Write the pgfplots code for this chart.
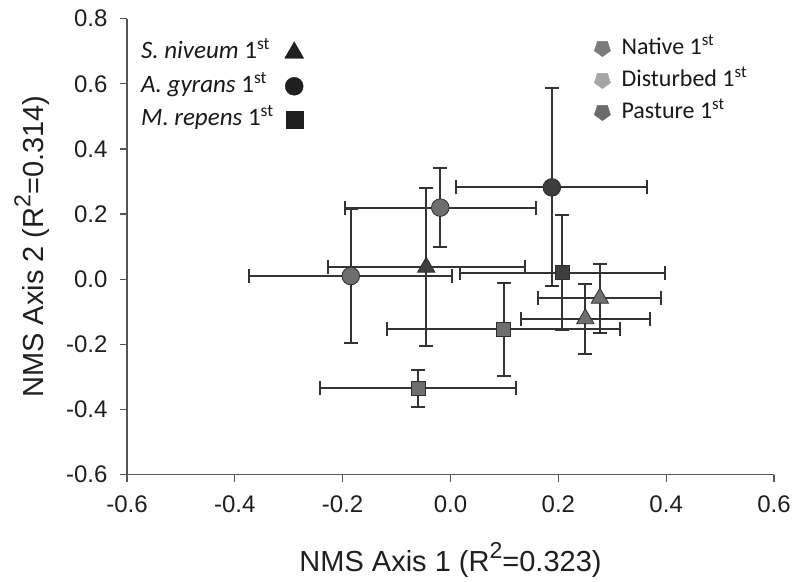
\documentclass[border=0pt]{standalone}
\usepackage{fontspec}
\setmainfont{Liberation Sans}
\newfontfamily\carlito{Carlito}
\usepackage{pgfplots}
\pgfplotsset{compat=1.18}

\definecolor{axisgray}{HTML}{555555}
\definecolor{ebar}{HTML}{333333}
\definecolor{mkedge}{HTML}{2E2E2E}
\definecolor{mkgray}{HTML}{6E6E6E}
\definecolor{mkdark}{HTML}{3E3E3E}
\definecolor{lgnative}{HTML}{7B7B7B}
\definecolor{lgdist}{HTML}{A5A5A5}
\definecolor{lgpast}{HTML}{6B6B6B}

% x, y, x error, y error
\pgfplotstableread{
x y ex ey
-0.019 0.220 0.177 0.121
-0.185 0.010 0.188 0.207
}\graycirc
\pgfplotstableread{
x y ex ey
0.188 0.282 0.177 0.304
}\darkcirc
\pgfplotstableread{
x y ex ey
-0.045 0.037 0.183 0.243
}\darktri
\pgfplotstableread{
x y ex ey
0.277 -0.058 0.114 0.106
0.250 -0.121 0.120 0.108
}\graytri
\pgfplotstableread{
x y ex ey
0.207 0.020 0.190 0.177
}\darksq
\pgfplotstableread{
x y ex ey
0.099 -0.154 0.216 0.142
-0.060 -0.335 0.182 0.056
}\graysq

\newcommand{\rsq}{R\raisebox{13pt}{\fontsize{23}{23}\selectfont 2}}

\pgfplotsset{
  ebars/.style={
    only marks, forget plot, line width=2pt, color=ebar,
    error bars/x dir=both, error bars/x explicit,
    error bars/y dir=both, error bars/y explicit,
    error bars/error bar style={line width=2pt, color=ebar},
    error bars/error mark options={rotate=90, mark size=7pt, line width=2pt, color=ebar},
  },
  common/.style={
    scale only axis, width=647pt, height=456pt,
    xmin=-0.6, xmax=0.6, ymin=-0.6, ymax=0.8,
  },
}

\begin{document}
\begin{tikzpicture}
\begin{axis}[
  common,
  xtick={-0.6,-0.4,-0.2,0,0.2,0.4,0.6},
  ytick={-0.6,-0.4,-0.2,0,0.2,0.4,0.6,0.8},
  axis x line*=bottom, axis y line*=left,
  tick align=outside, major tick length=7pt,
  axis line style={color=axisgray, line width=1.3pt, -},
  tick style={color=axisgray, line width=1.3pt},
  ticklabel style={font=\fontsize{24}{26}\selectfont, text=black!88},
  xticklabel style={yshift=-11pt, /pgf/number format/fixed, /pgf/number format/fixed zerofill,
    /pgf/number format/precision=1, /pgf/number format/assume math mode=true},
  yticklabel style={xshift=-9pt, /pgf/number format/fixed, /pgf/number format/fixed zerofill,
    /pgf/number format/precision=1, /pgf/number format/assume math mode=true},
  xlabel={NMS Axis 1 (\rsq=0.323)},
  ylabel={NMS Axis 2 (\rsq=0.314)},
  label style={font=\fontsize{29}{31}\selectfont, text=black!88},
  x label style={at={(axis description cs:0.5,-0.188)}, anchor=center},
  y label style={at={(axis description cs:-0.147,0.5)}, anchor=center},
  legend plot pos=right,
  legend cell align=left,
  legend style={draw=none, fill=none, inner sep=0pt,
    at={(axis description cs:0.020,0.952)}, anchor=north west,
    nodes={inner sep=1pt, text height=17pt, text depth=5pt},
    font=\carlito\fontsize{25}{27}\selectfont, text=black!90,
    row sep=9.5pt, column sep=10pt},
]
\addplot[ebars, mark=*, mark size=8.8pt, mark options={fill=mkgray, draw=mkedge, line width=0.8pt}]
  table[x=x, y=y, x error=ex, y error=ey] {\graycirc};
\addplot[ebars, mark=square*, mark size=7pt, mark options={fill=mkgray, draw=mkedge, line width=0.8pt}]
  table[x=x, y=y, x error=ex, y error=ey] {\graysq};
\addplot[ebars, mark=triangle*, mark size=10pt, mark options={fill=mkgray, draw=mkedge, line width=0.8pt}]
  table[x=x, y=y, x error=ex, y error=ey] {\graytri};
\addplot[ebars, mark=triangle*, mark size=10pt, mark options={fill=mkdark, draw=mkedge, line width=0.8pt}]
  table[x=x, y=y, x error=ex, y error=ey] {\darktri};
\addplot[ebars, mark=square*, mark size=7pt, mark options={fill=mkdark, draw=mkedge, line width=0.8pt}]
  table[x=x, y=y, x error=ex, y error=ey] {\darksq};
\addplot[ebars, mark=*, mark size=8.8pt, mark options={fill=mkdark, draw=mkedge, line width=0.8pt}]
  table[x=x, y=y, x error=ex, y error=ey] {\darkcirc};

\addlegendimage{only marks, mark=triangle*, mark size=11pt, black!88}
\addlegendentry{{\itshape S. niveum} 1\textsuperscript{st}}
\addlegendimage{only marks, mark=*, mark size=9pt, black!88}
\addlegendentry{{\itshape A. gyrans} 1\textsuperscript{st}}
\addlegendimage{only marks, mark=square*, mark size=8.5pt, black!88}
\addlegendentry{{\itshape M. repens} 1\textsuperscript{st}}
\end{axis}

\begin{axis}[
  common, hide axis,
  legend cell align=left,
  legend style={draw=none, fill=none, inner sep=0pt,
    at={(axis description cs:0.722,0.962)}, anchor=north west,
    nodes={inner sep=1pt, text height=17pt, text depth=5pt},
    font=\carlito\fontsize{24}{26}\selectfont, text=black!90,
    row sep=8pt, column sep=10pt},
]
\addlegendimage{only marks, mark=pentagon*, mark size=8.5pt, mark options={rotate=180}, lgnative}
\addlegendentry{Native 1\textsuperscript{st}}
\addlegendimage{only marks, mark=pentagon*, mark size=8.5pt, mark options={rotate=180}, lgdist}
\addlegendentry{Disturbed 1\textsuperscript{st}}
\addlegendimage{only marks, mark=pentagon*, mark size=8.5pt, mark options={rotate=180}, lgpast}
\addlegendentry{Pasture 1\textsuperscript{st}}
\end{axis}

\pgfresetboundingbox
\path ([shift={(-127pt,-107pt)}]current axis.south west)
  rectangle ([shift={(21pt,18.7pt)}]current axis.north east);
\end{tikzpicture}
\end{document}
